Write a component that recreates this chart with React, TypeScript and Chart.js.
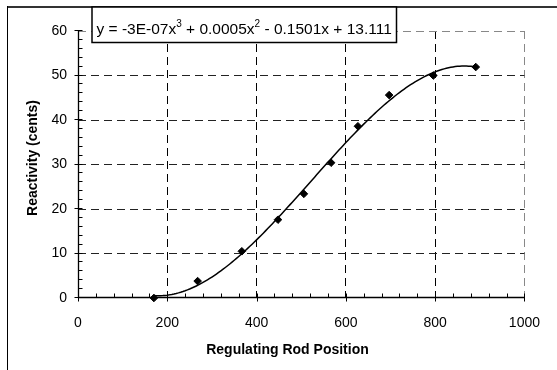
import React, { useEffect, useRef } from "react";
import { Chart, registerables } from "chart.js";

Chart.register(...registerables);

// ---- data ----
const rodPositions = [170, 268, 367, 448, 506, 567, 627, 697, 796, 891];
const reactivityCents = [0, 3.8, 10.5, 17.6, 23.4, 30.4, 38.6, 45.6, 50.0, 51.9];
const xTickValues = [0, 200, 400, 600, 800, 1000];
const yTickValues = [0, 10, 20, 30, 40, 50, 60];
const xTitle = "Regulating Rod Position";
const yTitle = "Reactivity (cents)";
const equationParts: [string, boolean][] = [
  ["y = -3E-07x", false],
  ["3", true],
  [" + 0.0005x", false],
  ["2", true],
  [" - 0.1501x + 13.111", false],
];

// least-squares cubic trendline through the data (as the spreadsheet does)
function cubicFit(xs: number[], ys: number[]) {
  const s = 1000;
  const n = 4;
  const M: number[][] = Array.from({ length: n }, () => Array(n + 1).fill(0));
  for (let k = 0; k < xs.length; k++) {
    const x = xs[k] / s;
    for (let i = 0; i < n; i++) {
      for (let j = 0; j < n; j++) M[i][j] += Math.pow(x, i + j);
      M[i][n] += ys[k] * Math.pow(x, i);
    }
  }
  for (let c = 0; c < n; c++) {
    let p = c;
    for (let r = c + 1; r < n; r++) if (Math.abs(M[r][c]) > Math.abs(M[p][c])) p = r;
    [M[c], M[p]] = [M[p], M[c]];
    for (let r = 0; r < n; r++) {
      if (r === c) continue;
      const f = M[r][c] / M[c][c];
      for (let j = c; j <= n; j++) M[r][j] -= f * M[c][j];
    }
  }
  const coef = M.map((row, i) => row[n] / row[i]);
  return (x: number) => coef.reduce((acc, c, i) => acc + c * Math.pow(x / s, i), 0);
}

const FONT = "Arial, 'Liberation Sans', sans-serif";

const decorPlugin = {
  id: "decor",
  beforeDatasetsDraw(chart: any) {
    const { ctx, scales } = chart;
    const xs = scales.x;
    const ys = scales.y;
    const x0 = Math.round(xs.getPixelForValue(0)) + 0.5;
    const y0 = Math.round(ys.getPixelForValue(0)) - 0.5;
    ctx.save();
    // outer frame (top + left visible)
    ctx.strokeStyle = "#333";
    ctx.lineWidth = 2;
    ctx.beginPath();
    ctx.moveTo(7, 7);
    ctx.lineTo(560, 7);
    ctx.stroke();
    ctx.strokeStyle = "#000";
    ctx.lineWidth = 1;
    ctx.beginPath();
    ctx.moveTo(7.5, 6);
    ctx.lineTo(7.5, 372);
    ctx.stroke();

    // axes
    ctx.strokeStyle = "#000";
    ctx.lineWidth = 1.3;
    ctx.beginPath();
    ctx.moveTo(x0, Math.round(ys.getPixelForValue(60)));
    ctx.lineTo(x0, y0);
    ctx.lineTo(Math.round(xs.getPixelForValue(1000)) + 0.5, y0);
    ctx.stroke();
    ctx.lineWidth = 1;
    ctx.beginPath();
    for (let v = 0; v <= 1000; v += 40) {
      const px = Math.round(xs.getPixelForValue(v)) + 0.5;
      const major = v % 200 === 0;
      ctx.moveTo(px, y0 - 4);
      ctx.lineTo(px, major ? y0 + 4 : y0);
    }
    for (let v = 0; v <= 60; v += 2) {
      const py = Math.round(ys.getPixelForValue(v)) - 0.5;
      const major = v % 10 === 0;
      ctx.moveTo(major ? x0 - 4 : x0, py);
      ctx.lineTo(x0 + 4, py);
    }
    ctx.stroke();

    // titles
    ctx.fillStyle = "#000";
    ctx.font = `bold 14px ${FONT}`;
    ctx.textAlign = "center";
    ctx.textBaseline = "middle";
    ctx.fillText(xTitle, 287.5, 350);
    ctx.save();
    ctx.translate(33, 158);
    ctx.rotate(-Math.PI / 2);
    ctx.fillText(yTitle, 0, 0);
    ctx.restore();
    ctx.restore();
  },
  afterDraw(chart: any) {
    const { ctx } = chart;
    ctx.save();
    // equation box
    ctx.fillStyle = "#fff";
    ctx.fillRect(92, 7, 304.5, 35.5);
    ctx.strokeStyle = "#000";
    ctx.lineWidth = 1.5;
    ctx.strokeRect(92, 7, 304.5, 35.5);
    ctx.fillStyle = "#000";
    ctx.textAlign = "left";
    ctx.textBaseline = "alphabetic";
    let tx = 96.5;
    for (const [t, sup] of equationParts) {
      ctx.font = sup ? `10px ${FONT}` : `15.5px ${FONT}`;
      ctx.fillText(t, tx, sup ? 26.5 : 33.5);
      tx += ctx.measureText(t).width;
    }
    ctx.restore();
  },
};

export default function App() {
  const ref = useRef<HTMLCanvasElement | null>(null);
  useEffect(() => {
    document.body.style.margin = "0";
    const fit = cubicFit(rodPositions, reactivityCents);
    const xmin = Math.min(...rodPositions);
    const xmax = Math.max(...rodPositions);
    const trend: { x: number; y: number }[] = [];
    for (let x = xmin; x <= xmax; x += 5) trend.push({ x, y: fit(x) });
    trend.push({ x: xmax, y: fit(xmax) });

    const chart = new Chart(ref.current as HTMLCanvasElement, {
      type: "scatter",
      data: {
        datasets: [
          {
            label: "data",
            data: rodPositions.map((x, i) => ({ x, y: reactivityCents[i] })),
            pointStyle: "rectRot",
            pointRadius: 3.8,
            pointBackgroundColor: "#000",
            pointBorderColor: "#000",
            pointBorderWidth: 1,
            showLine: false,
            clip: false,
            order: 0,
          },
          {
            label: "trend",
            data: trend,
            showLine: true,
            borderColor: "#000",
            borderWidth: 1.5,
            pointRadius: 0,
            tension: 0,
            clip: false,
            order: 1,
          },
        ],
      },
      options: {
        responsive: false,
        animation: false,
        events: [],
        layout: { padding: { left: 0, top: 31, right: 21, bottom: 0 } },
        plugins: { legend: { display: false }, tooltip: { enabled: false } },
        scales: {
          x: {
            type: "linear",
            min: 0,
            max: 1000,
            afterBuildTicks: (s: any) => {
              s.ticks = xTickValues.map((v) => ({ value: v }));
            },
            afterFit: (s: any) => {
              s.height = 72;
            },
            ticks: {
              color: "#000",
              font: { family: FONT, size: 14 },
              padding: 17,
              maxRotation: 0,
              callback: (v: any) => String(v),
            },
            grid: {
              drawTicks: false,
              lineWidth: 1,
              color: (c: any) =>
                c.tick && c.tick.value === 0 ? "rgba(0,0,0,0)" : c.tick && c.tick.value === 1000 ? "#888" : "#000",
            },
            border: { display: false, dash: [8, 5] },
          },
          y: {
            type: "linear",
            min: 0,
            max: 60,
            afterBuildTicks: (s: any) => {
              s.ticks = yTickValues.map((v) => ({ value: v }));
            },
            afterFit: (s: any) => {
              s.width = 78;
            },
            ticks: {
              color: "#000",
              font: { family: FONT, size: 14 },
              padding: 11,
              callback: (v: any) => String(v),
            },
            grid: {
              drawTicks: false,
              lineWidth: 1,
              color: (c: any) =>
                c.tick && c.tick.value === 0 ? "rgba(0,0,0,0)" : c.tick && c.tick.value === 60 ? "#888" : "#222",
            },
            border: { display: false, dash: [8, 5] },
          },
        },
      },
      plugins: [decorPlugin],
    });
    return () => chart.destroy();
  }, []);
  return (
    <div style={{ position: "fixed", left: 0, top: 0, width: 557, height: 370, background: "#fff" }}>
      <canvas ref={ref} width={557} height={370} style={{ display: "block" }} />
    </div>
  );
}
